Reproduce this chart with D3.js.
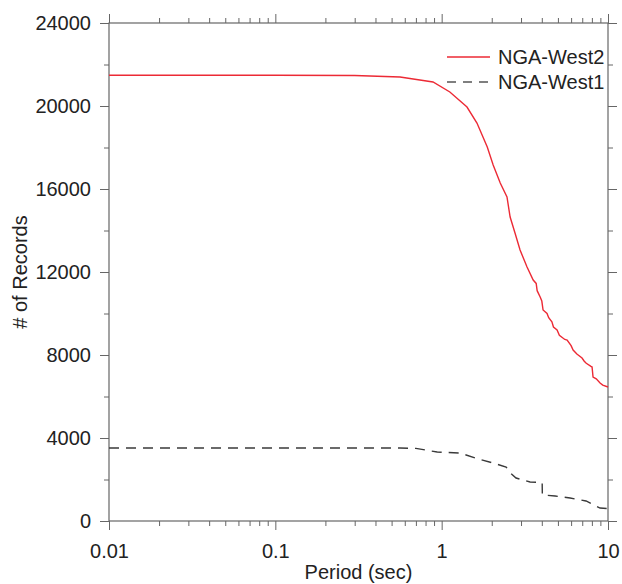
<!DOCTYPE html>
<html>
<head>
<meta charset="utf-8">
<script src="https://cdn.jsdelivr.net/npm/d3@7"></script>
<style>
  body { margin: 0; background: #fff; }
  text { font-family: "Liberation Sans", Arial, sans-serif; fill: #222; }
</style>
</head>
<body>
<div id="wrapper"></div>
<script>
// NGA-West2 record count vs period
const west2Period = [0.01, 0.1, 0.3, 0.562, 0.887, 1.12, 1.42, 1.63, 1.88, 2.04, 2.25, 2.47, 2.58, 2.76, 2.96, 3.26, 3.55,
  3.7, 3.75, 3.91, 4.0, 4.07, 4.3, 4.4, 4.6, 4.7, 4.94, 5.1, 5.5, 5.68, 6.0, 6.17, 6.5, 6.98, 7.2, 7.4, 7.9, 8.02, 8.13, 8.5, 8.96, 9.3, 10]
const west2Count = [21480, 21480, 21470, 21400, 21156, 20674, 19951, 19180, 18023, 17156, 16288, 15614, 14650, 13879, 13060, 12240, 11614,
  11450, 11100, 10795, 10600, 10168, 10000, 9800, 9600, 9350, 9204, 8950, 8750, 8722, 8450, 8240, 8050, 7855, 7700, 7600, 7450, 7421, 6939, 6850, 6650, 6550, 6457]

// NGA-West1
const west1Period = [0.01, 0.1, 0.562, 0.7, 0.94, 1.29, 1.66, 2.04, 2.44, 2.6, 2.8, 3.4, 4.02, 4.03, 4.81, 5.92, 7.38, 8.96, 10]
const west1Count = [3520, 3520, 3518, 3500, 3325, 3277, 2988, 2795, 2602, 2300, 2072, 1879, 1850, 1253, 1205, 1108, 964, 626, 600]

const seriesNames = ["NGA-West2", "NGA-West1"]
const xMajorTicks = [0.01, 0.1, 1, 10]
const xMinorTicks = [2, 3, 4, 5, 6, 7, 8, 9].flatMap(m => [m * 0.01, m * 0.1, m])
const yMajorTicks = [0, 4000, 8000, 12000, 16000, 20000, 24000]
const yMinorTicks = [2000, 6000, 10000, 14000, 18000, 22000]

function drawChart() {
    const dimensions = {
        width: 622,
        height: 584,
        margin: {top: 23, right: 14, bottom: 63, left: 109},
    }
    dimensions.boundedWidth = dimensions.width - dimensions.margin.left - dimensions.margin.right
    dimensions.boundedHeight = dimensions.height - dimensions.margin.top - dimensions.margin.bottom

    const svg = d3.select("#wrapper").append("svg")
        .attr("width", dimensions.width)
        .attr("height", dimensions.height)
    const bounds = svg.append("g")
        .attr("transform", `translate(${dimensions.margin.left},${dimensions.margin.top})`)

    const xScale = d3.scaleLog().domain([0.01, 10]).range([0, dimensions.boundedWidth])
    const yScale = d3.scaleLinear().domain([0, 24000]).range([dimensions.boundedHeight, 0])

    drawAxes(bounds, xScale, yScale, dimensions)

    const west2 = west2Period.map((p, i) => [p, west2Count[i]])
    const west1 = west1Period.map((p, i) => [p, west1Count[i]])
    const line = d3.line().x(d => xScale(d[0])).y(d => yScale(d[1]))

    bounds.append("path")
        .attr("d", line(west1))
        .attr("fill", "none")
        .attr("stroke", "#3a3a3a")
        .attr("stroke-width", 1.4)
        .attr("stroke-dasharray", "10,7")
    bounds.append("path")
        .attr("d", line(west2))
        .attr("fill", "none")
        .attr("stroke", "#ec2a35")
        .attr("stroke-width", 1.4)

    // legend
    const legend = svg.append("g")
    const rows = [{name: seriesNames[0], y: 57, color: "#ec2a35", dash: null},
                  {name: seriesNames[1], y: 82, color: "#555", dash: "9,7"}]
    rows.forEach(r => {
        legend.append("line")
            .attr("x1", 447).attr("x2", 490)
            .attr("y1", r.y).attr("y2", r.y)
            .attr("stroke", r.color)
            .attr("stroke-width", 1.4)
            .attr("stroke-dasharray", r.dash)
        legend.append("text")
            .attr("x", 498).attr("y", r.y + 7)
            .attr("font-size", 20)
            .text(r.name)
    })

    // axis titles
    svg.append("text")
        .attr("x", dimensions.margin.left + dimensions.boundedWidth / 2)
        .attr("y", 579)
        .attr("text-anchor", "middle")
        .attr("font-size", 20)
        .text("Period (sec)")
    svg.append("text")
        .attr("transform", "translate(27,272) rotate(-90)")
        .attr("text-anchor", "middle")
        .attr("font-size", 20)
        .text("# of Records")
}

function drawAxes(bounds, xScale, yScale, dimensions) {
    const w = dimensions.boundedWidth, h = dimensions.boundedHeight
    const style = g => {
        g.select(".domain").remove()
        g.selectAll(".tick line").attr("stroke", "#666")
        g.selectAll(".tick text").attr("font-size", 20).attr("fill", "#222")
            .attr("font-family", '"Liberation Sans", Arial, sans-serif')
    }
    // bottom
    bounds.append("g").attr("transform", `translate(0,${h})`)
        .call(d3.axisBottom(xScale).tickValues(xMajorTicks).tickFormat(d3.format("~g")).tickSize(9).tickPadding(14))
        .call(style)
    bounds.append("g").attr("transform", `translate(0,${h})`)
        .call(d3.axisBottom(xScale).tickValues(xMinorTicks).tickFormat("").tickSize(5))
        .call(style)
    // top
    bounds.append("g")
        .call(d3.axisTop(xScale).tickValues(xMajorTicks).tickFormat("").tickSize(9))
        .call(style)
    bounds.append("g")
        .call(d3.axisTop(xScale).tickValues(xMinorTicks).tickFormat("").tickSize(5))
        .call(style)
    // left
    bounds.append("g")
        .call(d3.axisLeft(yScale).tickValues(yMajorTicks).tickFormat(d3.format("d")).tickSize(9).tickPadding(9))
        .call(style)
    bounds.append("g")
        .call(d3.axisLeft(yScale).tickValues(yMinorTicks).tickFormat("").tickSize(5))
        .call(style)
    // right
    bounds.append("g").attr("transform", `translate(${w},0)`)
        .call(d3.axisRight(yScale).tickValues(yMajorTicks).tickFormat("").tickSize(9))
        .call(style)
    bounds.append("g").attr("transform", `translate(${w},0)`)
        .call(d3.axisRight(yScale).tickValues(yMinorTicks).tickFormat("").tickSize(5))
        .call(style)
    // frame
    bounds.append("rect")
        .attr("width", w).attr("height", h)
        .attr("fill", "none")
        .attr("stroke", "#666")
        .attr("stroke-width", 1.2)
}

drawChart()
</script>
</body>
</html>
